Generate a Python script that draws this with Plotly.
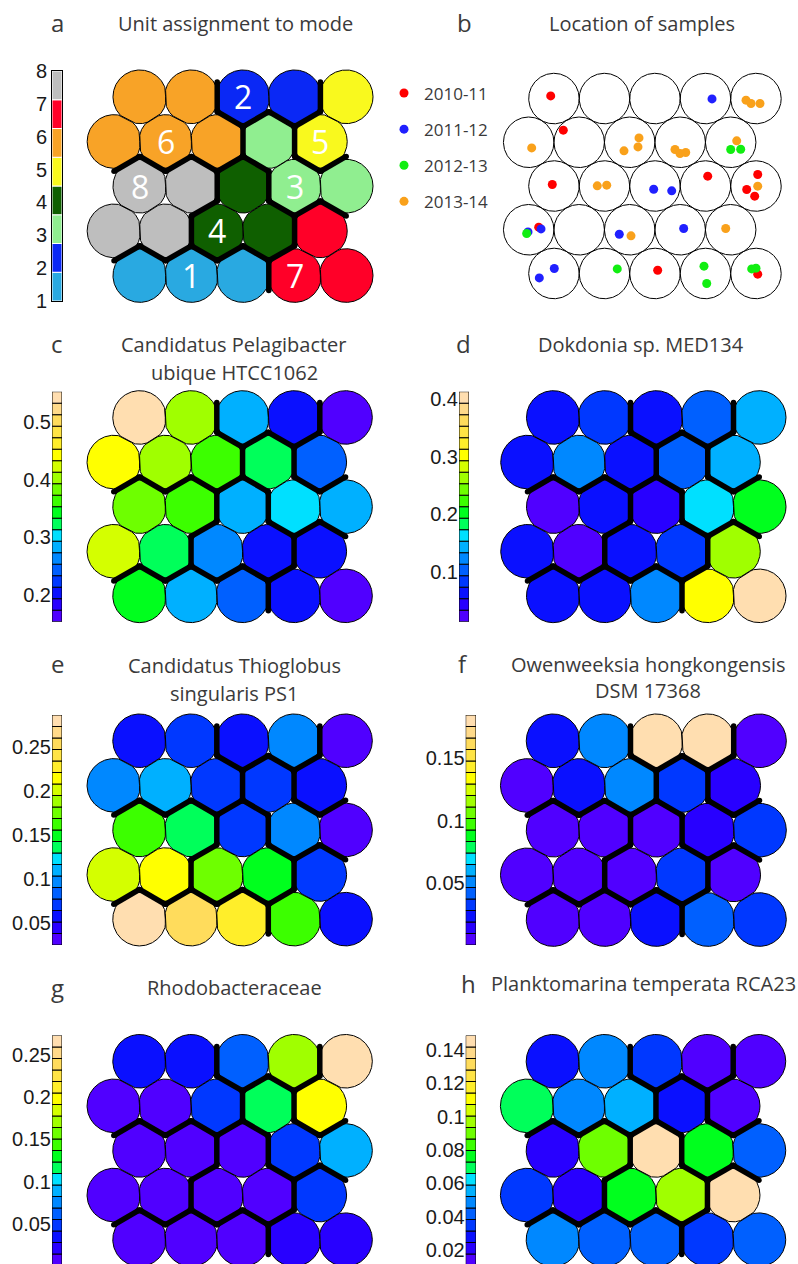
import numpy as np
import plotly.graph_objects as go

W, H = 798, 1264
SQ3 = np.sqrt(3.0)

# ---------------------------------------------------------------- data
palette = ["#5000ff", "#2800ff", "#0a10ff", "#0038ff", "#0060ff", "#0088ff",
           "#00b0ff", "#00e0ff", "#00ff5a", "#00ff1e", "#3cff00", "#6eff00",
           "#a0ff00", "#d4ff00", "#ffff00", "#ffee2a", "#ffe445", "#ffdc5c",
           "#ffda8a", "#ffdeb0"]

mode_colors = ["#29a9e1", "#0a28f5", "#90ee90", "#0f5f00",
               "#f9f91e", "#f8a327", "#ff0028", "#bebebe"]
mode_ticks = [1, 2, 3, 4, 5, 6, 7, 8]

# unit -> mode (rows listed from top to bottom)
unit_mode = [6, 6, 2, 2, 5,
             6, 6, 6, 3, 5,
             8, 8, 4, 3, 3,
             8, 8, 4, 4, 7,
             1, 1, 1, 7, 7]
labelled_units = [2, 6, 9, 10, 13, 17, 21, 23]

season_names = ["2010-11", "2011-12", "2012-13", "2013-14"]
season_colors = ["#ff0000", "#2020ff", "#11ee11", "#f9a11b"]
s1011_x = [0.436, 0.685, 0.467, 3.545, 4.535, 4.317, 4.475, 0.198, 2.554, 4.535]
s1011_y = [3.517, 2.838, 1.762, 1.927, 1.960, 1.663, 1.531, 0.917, 0.065, -0.014]
s1112_x = [3.630, 2.475, 2.832, 0.244, -0.014, 1.794, 3.069, 0.507, 0.210]
s1112_y = [3.457, 1.669, 1.636, 0.883, 0.824, 0.778, 0.891, 0.099, -0.087]
s1213_x = [4.000, 4.198, -0.040, 1.754, 3.471, 3.525, 4.416, 4.501]
s1213_y = [2.455, 2.461, 0.792, 0.091, 0.145, -0.198, 0.091, 0.105]
s1314_x = [4.303, 4.402, 4.580, 0.059, 2.184, 2.164, 1.887, 2.897, 2.996, 3.109,
           4.119, 1.358, 1.545, 4.535, 2.026, 3.901]
s1314_y = [3.432, 3.366, 3.366, 2.487, 2.685, 2.507, 2.428, 2.455, 2.376, 2.396,
           2.626, 1.735, 1.749, 1.729, 0.745, 0.891]

c_vals = [0.542, 0.403, 0.283, 0.204, 0.164,
          0.443, 0.403, 0.363, 0.323, 0.244,
          0.383, 0.363, 0.283, 0.303, 0.283,
          0.423, 0.323, 0.263, 0.204, 0.204,
          0.343, 0.283, 0.244, 0.204, 0.164]
c_lim = [0.154, 0.552]
c_ticks = [0.2, 0.3, 0.4, 0.5]

d_vals = [0.064, 0.084, 0.064, 0.104, 0.144,
          0.064, 0.124, 0.064, 0.104, 0.144,
          0.024, 0.064, 0.044, 0.164, 0.204,
          0.064, 0.024, 0.064, 0.084, 0.263,
          0.064, 0.064, 0.124, 0.303, 0.403]
d_lim = [0.014, 0.413]
d_ticks = [0.1, 0.2, 0.3, 0.4]

e_vals = [0.058, 0.071, 0.058, 0.097, 0.032,
          0.097, 0.110, 0.071, 0.071, 0.058,
          0.162, 0.136, 0.071, 0.097, 0.032,
          0.201, 0.214, 0.175, 0.149, 0.071,
          0.280, 0.253, 0.227, 0.162, 0.058]
e_lim = [0.0254, 0.286]
e_ticks = [0.05, 0.1, 0.15, 0.2, 0.25]

f_vals = [0.024, 0.051, 0.180, 0.180, 0.005,
          0.005, 0.024, 0.051, 0.033, 0.014,
          0.005, 0.005, 0.005, 0.014, 0.033,
          0.005, 0.005, 0.005, 0.033, 0.005,
          0.005, 0.005, 0.024, 0.042, 0.033]
f_lim = [0.0006, 0.1846]
f_ticks = [0.05, 0.1, 0.15]

g_vals = [0.035, 0.035, 0.062, 0.171, 0.266,
          0.007, 0.007, 0.048, 0.116, 0.198,
          0.007, 0.007, 0.007, 0.048, 0.089,
          0.007, 0.007, 0.007, 0.007, 0.048,
          0.007, 0.007, 0.007, 0.021, 0.021]
g_lim = [0.0006, 0.2729]
g_ticks = [0.05, 0.1, 0.15, 0.2, 0.25]

h_vals = [0.031, 0.052, 0.038, 0.017, 0.017,
          0.072, 0.052, 0.058, 0.031, 0.017,
          0.024, 0.093, 0.148, 0.079, 0.045,
          0.038, 0.024, 0.079, 0.100, 0.148,
          0.052, 0.045, 0.045, 0.038, 0.045]
h_lim = [0.0136, 0.1516]
h_ticks = [0.02, 0.04, 0.06, 0.08, 0.1, 0.12, 0.14]

# ---------------------------------------------------------------- helpers
TITLE_FONT = "Open Sans, Lato, sans-serif"
TICK_FONT = "Liberation Sans, Arial, sans-serif"
CB_H = 230.0
NROW, NCOL = 5, 5

fig = go.Figure()
axes_layout = {}
n_axes = [0]


def add_axes(px_l, px_r, px_t, px_b, xr, yr):
    def lin(p, p0, p1, v0, v1):
        return v0 + (p - p0) / (p1 - p0) * (v1 - v0)
    nl, nr = max(px_l, 0.0), min(px_r, float(W))
    nt, nb = max(px_t, 0.0), min(px_b, float(H))
    xr2 = [lin(nl, px_l, px_r, xr[0], xr[1]), lin(nr, px_l, px_r, xr[0], xr[1])]
    yr2 = [lin(nb, px_b, px_t, yr[0], yr[1]), lin(nt, px_b, px_t, yr[0], yr[1])]
    n_axes[0] += 1
    k = n_axes[0]
    s = "" if k == 1 else str(k)
    axes_layout["xaxis" + s] = dict(domain=[nl / W, nr / W], range=xr2, anchor="y" + s,
                                    visible=False, fixedrange=True, automargin=False)
    axes_layout["yaxis" + s] = dict(domain=[1 - nb / H, 1 - nt / H], range=yr2, anchor="x" + s,
                                    visible=False, fixedrange=True, automargin=False)
    return "x" + s, "y" + s, s


def unit_xy(i):
    r, c = divmod(i, NCOL)
    return c + (0.5 if r % 2 == 0 else 0.0), (NROW - 1 - r) * SQ3 / 2


centers = [unit_xy(i) for i in range(NROW * NCOL)]
neighbors = {i: [] for i in range(NROW * NCOL)}
for i in range(NROW * NCOL):
    for j in range(NROW * NCOL):
        if i != j and np.hypot(centers[i][0] - centers[j][0], centers[i][1] - centers[j][1]) < 1.01:
            neighbors[i].append(j)


def cell_path(i, R, clip):
    cx, cy = centers[i]
    th = np.linspace(0, 2 * np.pi, 361)
    rad = np.full_like(th, R)
    if clip:
        for j in neighbors[i]:
            phi = np.arctan2(centers[j][1] - cy, centers[j][0] - cx)
            cs = np.cos(th - phi)
            lim = np.where(cs > 1e-6, 0.5 / np.where(cs > 1e-6, cs, 1.0), np.inf)
            rad = np.minimum(rad, lim)
    return cx + rad * np.cos(th), cy + rad * np.sin(th)


def grid_axes(x0, T, d):
    yb = T + (0.5 + 2 * SQ3) * d
    px_l, px_r = x0 - 0.9 * d, x0 + 5.4 * d
    px_t, px_b = T - 0.2 * d, T + (1 + 2 * SQ3) * d + 0.2 * d
    xr = [(px_l - x0) / d, (px_r - x0) / d]
    yr = [(yb - px_b) / d, (yb - px_t) / d]
    return add_axes(px_l, px_r, px_t, px_b, xr, yr)


def draw_cells(xa, ya, colors, R=0.52, clip=True, filled=True):
    for i in range(NROW * NCOL):
        xs, ys = cell_path(i, R, clip)
        if filled:
            fig.add_trace(go.Scatter(x=xs, y=ys, mode="lines", fill="toself", fillcolor=colors[i],
                                     line=dict(color="black", width=1), xaxis=xa, yaxis=ya,
                                     hoverinfo="skip", showlegend=False))
        else:
            fig.add_trace(go.Scatter(x=xs, y=ys, mode="lines",
                                     line=dict(color="black", width=1), xaxis=xa, yaxis=ya,
                                     hoverinfo="skip", showlegend=False))


def draw_boundaries(xa, ya):
    bx, by = [], []
    half = 1 / (2 * SQ3)
    for i in range(NROW * NCOL):
        for j in neighbors[i]:
            if j > i and unit_mode[i] != unit_mode[j]:
                (x1, y1), (x2, y2) = centers[i], centers[j]
                mx, my = (x1 + x2) / 2, (y1 + y2) / 2
                ux, uy = x2 - x1, y2 - y1
                vx, vy = -uy, ux
                bx += [mx - half * vx, mx + half * vx, None]
                by += [my - half * vy, my + half * vy, None]
    fig.add_trace(go.Scatter(x=bx, y=by, mode="lines+markers",
                             line=dict(color="black", width=5.5),
                             marker=dict(color="black", size=5.5),
                             xaxis=xa, yaxis=ya, hoverinfo="skip", showlegend=False))


def draw_colorbar(px_l, px_r, T, lim, ticks, labels, colors, edge, frame, shift=0):
    n = len(colors)
    step = (lim[1] - lim[0]) / n
    xa, ya, s = add_axes(px_l, px_r, T, T + CB_H, [-0.5, 0.5], lim)
    fig.add_trace(go.Bar(x=[0] * n, y=[step] * n, base=[lim[0] + k * step for k in range(n)],
                         width=[1] * n, marker=dict(color=colors, line=dict(color=edge, width=1)),
                         xaxis=xa, yaxis=ya, showlegend=False, hoverinfo="skip", cliponaxis=False))
    axes_layout["yaxis" + s].update(visible=True, showgrid=False, zeroline=False,
                                    showline=frame, mirror=frame, linecolor="black", linewidth=1,
                                    ticks="", tickmode="array", tickvals=ticks, ticktext=labels,
                                    ticklabeloverflow="allow", ticklabelshift=shift,
                                    tickfont=dict(family=TICK_FONT, size=20, color="#1a1a1a"))
    if frame:
        axes_layout["xaxis" + s].update(visible=True, showgrid=False, zeroline=False, showline=True,
                                        mirror=True, linecolor="black", linewidth=1, ticks="",
                                        showticklabels=False)


def value_colors(vals, lim):
    out = []
    for v in vals:
        k = int(np.floor((v - lim[0]) / (lim[1] - lim[0]) * len(palette)))
        out.append(palette[min(max(k, 0), len(palette) - 1)])
    return out


def text_px(x, y, s, size, color="#3a3a3a", family=TITLE_FONT):
    fig.add_annotation(x=x / W, y=1 - y / H, xref="paper", yref="paper", text=s, showarrow=False,
                       font=dict(family=family, size=size, color=color),
                       xanchor="center", yanchor="middle")


def fmt(t):
    return ("%g" % t)


# ---------------------------------------------------------------- panel a
draw_colorbar(52, 62, 71, [1, 8], mode_ticks, [str(t) for t in mode_ticks],
              mode_colors, "white", True)
xa, ya, _ = grid_axes(114, 71, 51.6)
draw_cells(xa, ya, [mode_colors[m - 1] for m in unit_mode])
draw_boundaries(xa, ya)
for i in labelled_units:
    fig.add_annotation(x=centers[i][0], y=centers[i][1], xref=xa, yref=ya,
                       text=str(unit_mode[i]), showarrow=False,
                       font=dict(family=TITLE_FONT, size=32, color="white"))

# ---------------------------------------------------------------- panel b
xa, ya, _ = grid_axes(528.7, 73.3, 50.5)
draw_cells(xa, ya, None, R=0.5, clip=False, filled=False)
for name, col, sx, sy in zip(season_names, season_colors,
                             [s1011_x, s1112_x, s1213_x, s1314_x],
                             [s1011_y, s1112_y, s1213_y, s1314_y]):
    fig.add_trace(go.Scatter(x=sx, y=sy, mode="markers", name=name, legendgroup=name,
                             marker=dict(color=col, size=9, line=dict(width=0)),
                             xaxis=xa, yaxis=ya, hoverinfo="skip", showlegend=True))

# ---------------------------------------------------------------- panels c-h
specs = [
    (c_vals, c_lim, c_ticks, 52, 62, 113.8, 391.7, 51.5, 0),
    (d_vals, d_lim, d_ticks, 459, 469, 527.5, 391.7, 51.5, 0),
    (e_vals, e_lim, e_ticks, 52, 62, 113.8, 715.0, 51.5, 0),
    (f_vals, f_lim, f_ticks, 465.7, 476, 527.3, 715.0, 51.6, 0),
    (g_vals, g_lim, g_ticks, 52, 62, 113.8, 1035.5, 51.5, 0),
    (h_vals, h_lim, h_ticks, 465.7, 476, 527.2, 1035.5, 51.5, -5),
]
for vals, lim, ticks, cl, cr, x0, T, d, sh in specs:
    draw_colorbar(cl, cr, T, lim, ticks, [fmt(t) for t in ticks], palette, "black", False, sh)
    xa, ya, _ = grid_axes(x0, T, d)
    draw_cells(xa, ya, value_colors(vals, lim))
    draw_boundaries(xa, ya)

# ---------------------------------------------------------------- texts
TS, LS = 20, 24
text_px(57, 23, "a", LS)
text_px(235, 24, "Unit assignment to mode", TS)
text_px(464, 23, "b", LS)
text_px(642, 24, "Location of samples", TS)
text_px(57, 343, "c", LS)
text_px(234, 344, "Candidatus Pelagibacter", TS)
text_px(234, 372, "ubique HTCC1062", TS)
text_px(463, 343, "d", LS)
text_px(641, 344, "Dokdonia sp. MED134", TS)
text_px(57, 663, "e", LS)
text_px(234, 665, "Candidatus Thioglobus", TS)
text_px(234, 693, "singularis PS1", TS)
text_px(463, 663, "f", LS)
text_px(648, 664, "Owenweeksia hongkongensis", TS)
text_px(648, 690, "DSM 17368", TS)
text_px(57, 987, "g", LS)
text_px(234, 987, "Rhodobacteraceae", TS)
text_px(468, 983, "h", LS)
text_px(643, 983, "Planktomarina temperata RCA23", TS)

fig.update_layout(
    width=W, height=H, autosize=False,
    margin=dict(l=0, r=0, t=0, b=0, pad=0, autoexpand=False),
    paper_bgcolor="white", plot_bgcolor="rgba(0,0,0,0)",
    font=dict(family=TITLE_FONT, color="#3a3a3a"),
    showlegend=True,
    legend=dict(x=384 / W, y=1 - 75.5 / H, xanchor="left", yanchor="top",
                font=dict(family=TITLE_FONT, size=17, color="#3a3a3a"),
                tracegroupgap=11, bgcolor="rgba(0,0,0,0)", borderwidth=0,
                itemwidth=30),
    **axes_layout,
)

fig.write_html("out.html")
